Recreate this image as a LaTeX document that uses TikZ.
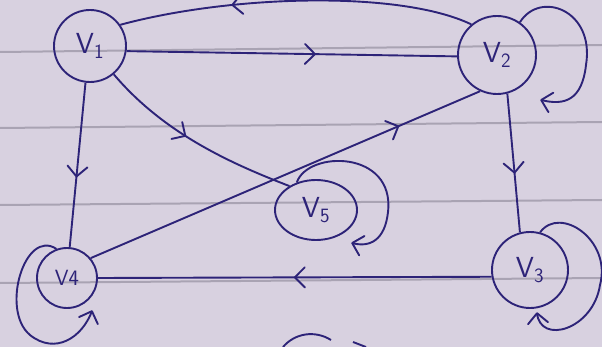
\documentclass[tikz,border=0pt]{standalone}
\usetikzlibrary{decorations.markings,shapes.geometric}
\definecolor{paper}{RGB}{216,209,224}
\definecolor{ink}{RGB}{45,35,120}
\definecolor{rulegrey}{RGB}{150,144,160}
\tikzset{
  vtx/.style={circle, draw=ink, line width=1.9pt, text=ink, inner sep=0pt,
    font=\sffamily\fontsize{29}{29}\selectfont},
  edge/.style={draw=ink, line width=1.9pt},
  midarr/.style={postaction={decorate}, decoration={markings,
    mark=at position #1 with {\draw[ink, line width=1.9pt, line cap=round, line join=round]
      (-10pt,-10pt) -- (0pt,0pt) -- (-10pt,10pt);}}},
  loopedge/.style={edge, midarr=0.999},
  ruleline/.style={draw=rulegrey, line width=2pt, opacity=0.7},
}
\begin{document}
\begin{tikzpicture}[x=1pt,y=-1pt]
\fill[paper] (0,0) rectangle (602,347);
\useasboundingbox (0,0) rectangle (602,347);
% ruled lines of the paper
\draw[ruleline] (0,52) -- (602,45);
\draw[ruleline] (0,128) -- (602,122);
\draw[ruleline] (0,205) -- (602,200);
\draw[ruleline] (0,283) -- (602,278);

% vertices
\node[vtx, minimum size=72pt] (v1) at (90,46) {V\textsubscript{1}};
\node[vtx, minimum size=78pt] (v2) at (497,55) {V\textsubscript{2}};
\node[vtx, minimum size=76pt] (v3) at (530,270) {V\textsubscript{3}};
\node[vtx, minimum size=60pt, font=\sffamily\fontsize{22}{22}\selectfont] (v4) at (67,278) {V4};
\node[vtx, ellipse, minimum width=82pt, minimum height=60pt] (v5) at (316,210) {V\textsubscript{5}};

% edges
\draw[edge, midarr=0.57] (v1.-8) -- (v2.182);
\draw[edge, midarr=0.68] (v2.130) .. controls (400,-10) and (230,-5) .. (v1.35);
\draw[edge, midarr=0.57] (v2.-75) -- (v3.105);
\draw[edge, midarr=0.79] (v4.40) -- (v2.-115);
\draw[edge, midarr=0.45] (v1.-50) .. controls (165,135) and (235,165) .. (v5.138);
\draw[edge, midarr=0.57] (v1.-97) -- (v4.85);
\draw[edge, midarr=0.50] (v3.190) -- (v4.0);

% self loops
\coordinate (l2) at (541,100);
\coordinate (l3) at (537,313);
\coordinate (l4) at (92,311);
\coordinate (l5) at (352,243);
\draw[loopedge] (v2.55) .. controls (540,-10) and (595,10) .. (586,65)
  .. controls (582,100) and (565,106) .. (l2);
\draw[loopedge] (v3.75) .. controls (560,205) and (612,240) .. (600,285)
  .. controls (593,330) and (540,345) .. (l3);
\draw[loopedge] (v4.110) .. controls (25,228) and (0,310) .. (30,335)
  .. controls (55,355) and (82,338) .. (l4);
\draw[loopedge] (v5.125) .. controls (308,150) and (395,150) .. (388,212)
  .. controls (385,240) and (370,248) .. (l5);

% ink fragments at the bottom edge
\draw[edge] (283,347) .. controls (295,333) and (315,330) .. (331,340);
\draw[edge] (353,342) -- (366,347);
\end{tikzpicture}
\end{document}
